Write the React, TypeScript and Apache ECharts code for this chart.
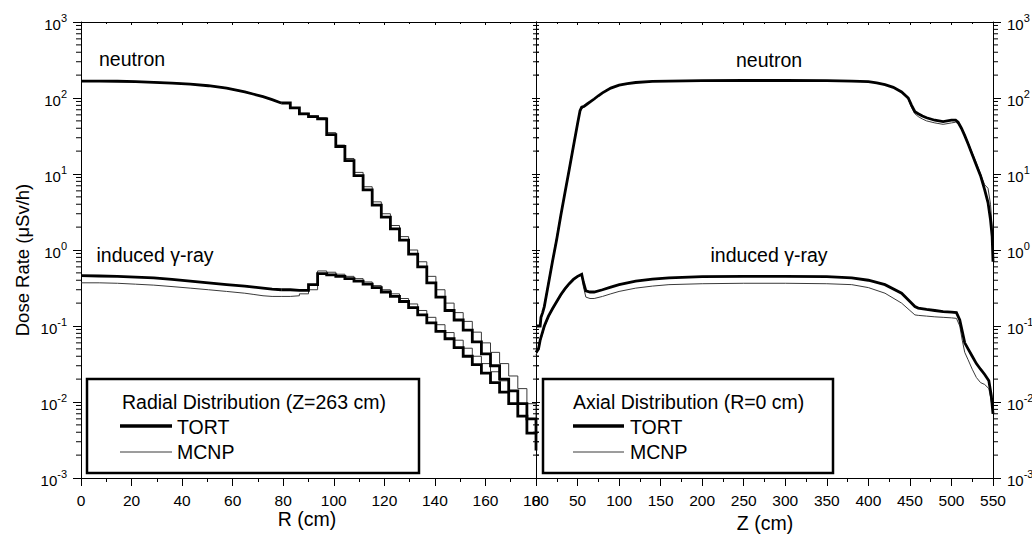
import React, { useEffect, useRef } from 'react';
import * as echarts from 'echarts';

const FONT = '"Liberation Sans", Arial, Helvetica, sans-serif';

// ---------- Radial distribution (left panel) ----------
const R_GRID = [0, 7.2, 14.4, 21.6, 28.8, 36, 43.2, 50.4, 57.6, 64.8, 68.4, 72, 75.6, 79.2, 82.8, 86.4, 90, 93.6, 97.2, 100.8, 104.4, 108, 111.6, 115.2, 118.8, 122.4, 126, 129.6, 133.2, 136.8, 140.4, 144, 147.6, 151.2, 154.8, 158.4, 162, 165.6, 169.2, 172.8, 176.4, 180];
const NEUTRON_R_TORT = [167, 167, 166, 164, 161, 157, 152, 145, 135, 120, 112, 104, 95, 86, 74, 62, 57, 53, 33, 23, 15, 9.5, 6.2, 3.9, 2.7, 1.9, 1.35, 0.88, 0.6, 0.37, 0.24, 0.16, 0.12, 0.088, 0.062, 0.043, 0.03, 0.02, 0.014, 0.0095, 0.006, 0.0023];
const NEUTRON_R_MCNP = [168, 168, 167, 165, 162, 158, 153, 146, 136, 121, 113, 105, 96, 87, 75, 63, 58, 55, 35, 24, 16, 10.5, 6.8, 4.3, 3.0, 2.1, 1.5, 1.0, 0.7, 0.45, 0.3, 0.2, 0.15, 0.115, 0.083, 0.06, 0.045, 0.032, 0.022, 0.015, 0.0095, 0.005];
const GAMMA_R_TORT = [0.46, 0.455, 0.45, 0.44, 0.43, 0.41, 0.39, 0.37, 0.35, 0.335, 0.325, 0.315, 0.305, 0.3, 0.295, 0.295, 0.35, 0.49, 0.47, 0.45, 0.42, 0.39, 0.355, 0.32, 0.28, 0.245, 0.21, 0.175, 0.14, 0.11, 0.085, 0.068, 0.052, 0.04, 0.031, 0.024, 0.018, 0.0135, 0.0095, 0.0065, 0.0039, 0.0038];
const GAMMA_R_MCNP = [0.37, 0.37, 0.365, 0.355, 0.345, 0.33, 0.315, 0.3, 0.285, 0.27, 0.26, 0.25, 0.245, 0.245, 0.25, 0.265, 0.3, 0.53, 0.51, 0.48, 0.45, 0.42, 0.38, 0.34, 0.3, 0.265, 0.23, 0.195, 0.16, 0.13, 0.104, 0.082, 0.065, 0.051, 0.04, 0.032, 0.025, 0.019, 0.014, 0.0095, 0.006, 0.004];
// index in R_GRID where the coarse-mesh staircase becomes visible
const STEP_START = 13;

// ---------- Axial distribution (right panel) ----------
const Z_N = [0, 5, 6, 8, 10, 15, 20, 25, 30, 35, 40, 45, 50, 53, 55, 58, 62, 66, 70, 75, 80, 90, 100, 110, 120, 140, 160, 200, 250, 300, 350, 380, 400, 410, 420, 430, 440, 448, 452, 456, 460, 465, 470, 480, 490, 500, 505, 508, 512, 516, 520, 525, 530, 535, 540, 544, 547, 549, 550];
const NEUTRON_Z_TORT = [0.1, 0.1, 0.13, 0.15, 0.18, 0.36, 0.72, 1.4, 2.9, 5.8, 11.5, 23, 46, 68, 76, 78, 84, 90, 97, 107, 117, 135, 148, 155, 160, 165, 167, 169, 170, 170, 169, 167, 164, 158, 150, 138, 120, 100, 80, 66, 62, 58, 55, 51, 49, 51, 51, 48, 40, 32, 25, 18, 13, 9.5, 6.2, 4.2, 2.5, 1.5, 0.7];
const NEUTRON_Z_MCNP = [0.1, 0.1, 0.12, 0.15, 0.19, 0.38, 0.75, 1.5, 3.0, 6.0, 12, 24, 47, 66, 72, 76, 83, 90, 97, 107, 117, 135, 148, 155, 160, 165, 167, 169, 170, 170, 169, 167, 164, 158, 150, 137, 118, 96, 75, 62, 57, 53, 50, 47, 45, 47, 48, 46, 40, 33, 26, 19, 14, 10, 7.2, 6.5, 4, 2, 0.9];

const Z_G = [0, 3, 5, 10, 15, 20, 25, 30, 35, 40, 45, 50, 55, 57, 60, 65, 70, 80, 90, 100, 120, 140, 160, 200, 250, 300, 350, 380, 400, 420, 440, 450, 456, 460, 470, 480, 490, 500, 506, 510, 513, 516, 520, 525, 530, 535, 540, 545, 548, 550];
const GAMMA_Z_TORT = [0.045, 0.05, 0.065, 0.1, 0.135, 0.17, 0.21, 0.26, 0.31, 0.36, 0.41, 0.45, 0.48, 0.38, 0.29, 0.28, 0.28, 0.3, 0.325, 0.35, 0.39, 0.415, 0.43, 0.445, 0.45, 0.45, 0.445, 0.43, 0.4, 0.35, 0.27, 0.21, 0.18, 0.172, 0.165, 0.16, 0.155, 0.152, 0.15, 0.12, 0.085, 0.06, 0.05, 0.04, 0.032, 0.027, 0.023, 0.019, 0.012, 0.007];
const GAMMA_Z_MCNP = [0.042, 0.048, 0.062, 0.095, 0.13, 0.165, 0.205, 0.25, 0.3, 0.35, 0.4, 0.44, 0.47, 0.33, 0.24, 0.23, 0.23, 0.245, 0.265, 0.285, 0.315, 0.335, 0.35, 0.36, 0.365, 0.365, 0.36, 0.35, 0.32, 0.27, 0.2, 0.16, 0.14, 0.138, 0.135, 0.132, 0.13, 0.128, 0.126, 0.1, 0.065, 0.045, 0.036, 0.027, 0.021, 0.018, 0.017, 0.015, 0.01, 0.007];

// axis ticks
const Y_MIN = 0.001;
const Y_MAX = 1000;
const MINOR_MULT = [2, 3, 4, 5, 6, 7, 8, 9];
const DECADES = [-3, -2, -1, 0, 1, 2];

const pair = (xs: number[], ys: number[]) => xs.map((x, i) => [x, ys[i]]);

export default function App() {
  const ref = useRef<HTMLDivElement>(null);

  useEffect(() => {
    if (!ref.current) return;
    const chart = echarts.init(ref.current, null, { renderer: 'svg' });

    const minorVals: number[] = [];
    DECADES.forEach((d) => MINOR_MULT.forEach((m) => minorVals.push(m * Math.pow(10, d))));

    const black = '#000';
    const thin = '#3a3a3a';
    const yLabel = (v: number) => {
      const e = Math.round(Math.log10(v));
      return `{b|10}{e|${e}}`;
    };
    const rich = {
      b: { fontSize: 15, fontFamily: FONT, color: black, lineHeight: 20, verticalAlign: 'bottom' },
      e: { fontSize: 11, fontFamily: FONT, color: black, lineHeight: 11, verticalAlign: 'top' },
    };

    const xBottom = (grid: number, max: number, interval: number) => ({
      type: 'value', gridIndex: grid, position: 'bottom', min: 0, max, interval,
      axisLine: { show: true, onZero: false, lineStyle: { color: black, width: 1 } },
      axisTick: { show: true, inside: false, length: 8, lineStyle: { color: black } },
      minorTick: { show: true, splitNumber: 2, length: 4, lineStyle: { color: black } },
      axisLabel: { show: true, margin: 14, fontSize: 15.5, fontFamily: FONT, color: black },
      splitLine: { show: false },
    });
    const xTop = (grid: number, max: number, interval: number) => ({
      type: 'value', gridIndex: grid, position: 'top', min: 0, max, interval,
      axisLine: { show: true, onZero: false, lineStyle: { color: black, width: 1 } },
      axisTick: { show: true, inside: true, length: 3, lineStyle: { color: black } },
      minorTick: { show: true, splitNumber: 2, length: 2, lineStyle: { color: black } },
      axisLabel: { show: false },
      splitLine: { show: false },
    });
    const yAx = (grid: number, position: string, labels: boolean, inside: boolean, len: number) => ({
      type: 'log', logBase: 10, gridIndex: grid, position, min: Y_MIN, max: Y_MAX, splitNumber: 6,
      axisLine: { show: true, onZero: false, lineStyle: { color: black, width: 1 } },
      axisTick: { show: true, inside, length: len, lineStyle: { color: black } },
      axisLabel: labels ? { show: true, margin: 14, formatter: yLabel, rich } : { show: false },
      splitLine: { show: false },
    });

    const minorTickSeries = (xi: number, yi: number, xMin: number, xMax: number, lOut: number, lIn: number, rIn: number, rOut: number) => ({
      type: 'custom',
      xAxisIndex: xi,
      yAxisIndex: yi,
      clip: false,
      silent: true,
      z: 5,
      data: minorVals.map((v) => [xMin, v]),
      renderItem: (_p: any, api: any) => {
        const v = api.value(1);
        const a = api.coord([xMin, v]);
        const b = api.coord([xMax, v]);
        const st = { stroke: black, lineWidth: 1 };
        return {
          type: 'group',
          children: [
            { type: 'line', shape: { x1: a[0] - lOut, y1: a[1], x2: a[0] + lIn, y2: a[1] }, style: st },
            { type: 'line', shape: { x1: b[0] - rIn, y1: b[1], x2: b[0] + rOut, y2: b[1] }, style: st },
          ],
        };
      },
    });

    const line = (xi: number, yi: number, data: number[][], thick: boolean, step: boolean) => ({
      type: 'line',
      xAxisIndex: xi,
      yAxisIndex: yi,
      data,
      step: step ? 'end' : false,
      showSymbol: false,
      symbol: 'none',
      silent: true,
      z: thick ? 3 : 2,
      lineStyle: { color: thick ? black : thin, width: thick ? 2.8 : 1, join: 'miter' },
    });

    // radial curve = smooth fine-mesh part + coarse-mesh staircase
    const radial = (vals: number[], thick: boolean) => [
      line(0, 0, pair(R_GRID.slice(0, STEP_START + 1), vals.slice(0, STEP_START + 1)), thick, false),
      line(0, 0, pair(R_GRID.slice(STEP_START), vals.slice(STEP_START)), thick, true),
    ];

    const text = (str: string, x: number, y: number, size: number, align = 'center', extra: any = {}) => ({
      type: 'text',
      x,
      y,
      ...extra,
      style: {
        text: str,
        fontSize: size,
        fontFamily: FONT,
        fill: black,
        align,
        verticalAlign: 'middle',
        textAlign: align,
        textVerticalAlign: 'middle',
      },
    });

    const hline = (x1: number, x2: number, y: number, w: number, color = black) => ({
      type: 'line',
      shape: { x1, y1: y, x2, y2: y },
      style: { stroke: color, lineWidth: w },
    });

    const T = 19.5;

    const option: any = {
      animation: false,
      backgroundColor: '#fff',
      textStyle: { fontFamily: FONT },
      grid: [
        { left: 81, top: 22, width: 455, height: 456, outerBoundsMode: 'none', containLabel: false },
        { left: 536, top: 22, width: 457, height: 456, outerBoundsMode: 'none', containLabel: false },
      ],
      xAxis: [
        xBottom(0, 180, 20),
        xTop(0, 180, 20),
        xBottom(1, 550, 50),
        xTop(1, 550, 50),
      ],
      yAxis: [
        yAx(0, 'left', true, false, 8),
        yAx(0, 'right', false, true, 4),
        yAx(1, 'left', false, true, 4),
        yAx(1, 'right', true, false, 8),
      ],
      series: [
        ...radial(NEUTRON_R_MCNP, false),
        ...radial(GAMMA_R_MCNP, false),
        ...radial(NEUTRON_R_TORT, true),
        ...radial(GAMMA_R_TORT, true),
        line(2, 2, pair(Z_N, NEUTRON_Z_MCNP), false, false),
        line(2, 2, pair(Z_G, GAMMA_Z_MCNP), false, false),
        line(2, 2, pair(Z_N, NEUTRON_Z_TORT), true, false),
        line(2, 2, pair(Z_G, GAMMA_Z_TORT), true, false),
        minorTickSeries(0, 0, 0, 180, 5, 0, 3, 3),
        minorTickSeries(2, 2, 0, 550, 0, 3, 0, 5),
      ],
      graphic: [
        text('neutron', 132, 59, T),
        text('induced \u03b3-ray', 155, 255, T),
        text('neutron', 769, 60, T),
        text('induced \u03b3-ray', 769, 255, T),
        text('R (cm)', 307, 519, T),
        text('Z (cm)', 765, 523, T),
        text('Dose Rate (\u03bcSv/h)', 22, 260, 18.5, 'center', { rotation: Math.PI / 2 }),
        // left legend
        { type: 'rect', shape: { x: 87, y: 379, width: 332, height: 94 }, style: { fill: '#fff', stroke: black, lineWidth: 2.5 }, z: 10 },
        text('Radial Distribution (Z=263 cm)', 122, 402, T, 'left', { z: 11 }),
        { ...hline(120, 172, 426, 3.5), z: 11 },
        text('TORT', 177, 427, T, 'left', { z: 11 }),
        { ...hline(120, 172, 452, 1, thin), z: 11 },
        text('MCNP', 177, 452, T, 'left', { z: 11 }),
        // right legend
        { type: 'rect', shape: { x: 543, y: 379, width: 290, height: 94 }, style: { fill: '#fff', stroke: black, lineWidth: 2.5 }, z: 10 },
        text('Axial Distribution (R=0 cm)', 573, 402, T, 'left', { z: 11 }),
        { ...hline(573, 624, 426, 3.5), z: 11 },
        text('TORT', 630, 427, T, 'left', { z: 11 }),
        { ...hline(573, 624, 452, 1, thin), z: 11 },
        text('MCNP', 630, 452, T, 'left', { z: 11 }),
      ],
    };

    chart.setOption(option);
    return () => chart.dispose();
  }, []);

  return (
    <div
      ref={ref}
      style={{ position: 'fixed', left: 0, top: 0, width: 1032, height: 535, background: '#fff' }}
    />
  );
}
